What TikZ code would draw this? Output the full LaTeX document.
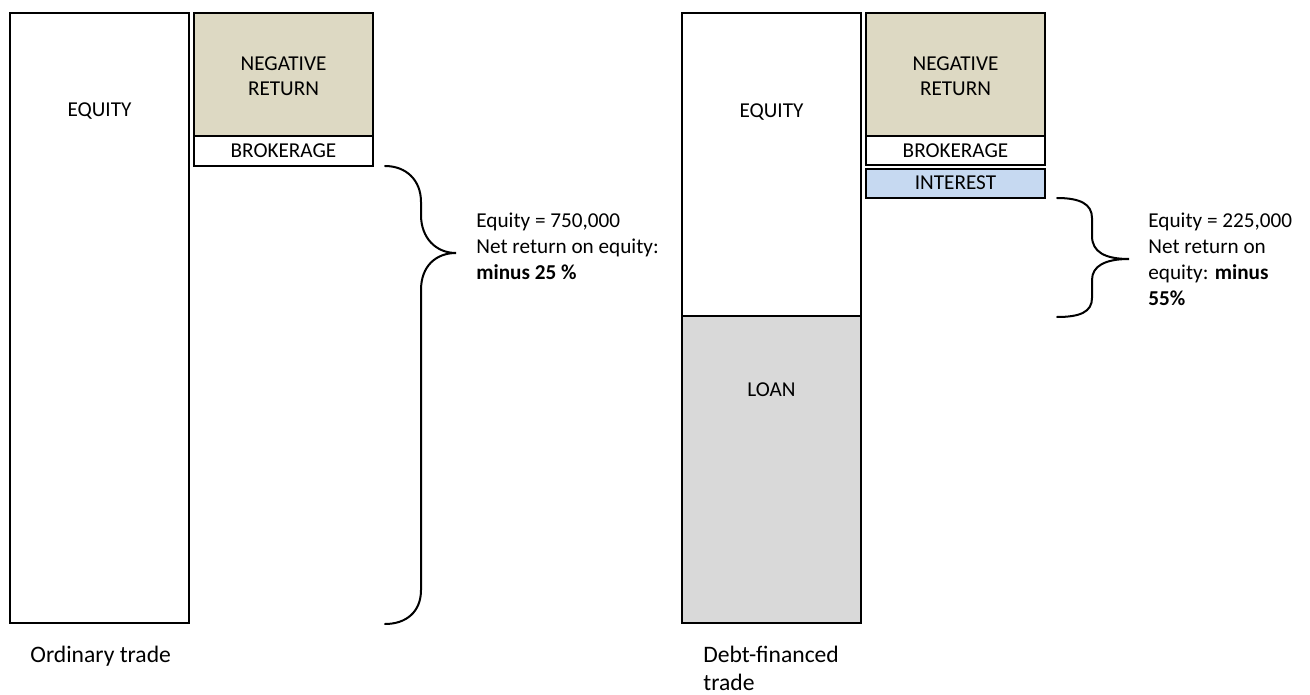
\documentclass[tikz,border=0pt]{standalone}
\usepackage{fontspec}
\setmainfont{Carlito}
\usepackage{tikz}
\usetikzlibrary{positioning}
\definecolor{tanfill}{HTML}{DDD9C3}
\definecolor{loanfill}{HTML}{D9D9D9}
\definecolor{interestfill}{HTML}{C6D9F1}

\begin{document}
\begin{tikzpicture}[x=0.5pt,y=-0.5pt,
  box/.style={rectangle,draw=black,line width=1pt,inner sep=0pt,outer sep=0pt,minimum width=89.5pt},
  lbl/.style={inner sep=0pt,font=\fontsize{10.6}{12.5}\selectfont,align=center},
  note/.style={inner sep=0pt,anchor=north west,font=\fontsize{10.6}{13}\selectfont,align=left},
  caption/.style={note,font=\fontsize{11.8}{14}\selectfont},
  brace/.style={line width=1pt,line cap=round}]
\useasboundingbox (0,0) rectangle (1310,695);
% \draw[help lines] (0,0) grid (1310,695);
% ordinary trade
\node (eq1) [box,minimum height=305pt] at (99.5,318) {};
\node (neg1) [box,fill=tanfill,minimum height=61.5pt] at (283.5,74.5) {};
\node (brk1) [box,minimum height=15pt] at (283.5,151) {};
\node (eq1t) [lbl] at (99.5,111) {EQUITY};
\node (neg1t) [lbl] at (283.5,76.5) {NEGATIVE\\RETURN};
\node (brk1t) [lbl] at (283.5,150.5) {BROKERAGE};
%
\coordinate (b1top) at (385,166);
\coordinate (b1tip) at (456,253);
\coordinate (b1bot) at (385,624);
\draw[brace] (b1top) .. controls (406,166) and (421,180) .. (421,202)
  -- (421,215) .. controls (421,238) and (436,253) .. (b1tip)
  .. controls (436,253) and (421,266) .. (421,290)
  -- (421,590) .. controls (421,612) and (406,624) .. (b1bot);
\node (n1) [note] at (476,213) {Equity = 750,000\\Net return on equity:\\\textbf{minus 25 \%}};
\node (cap1) [caption] at (30,646) {Ordinary trade};
% debt-financed trade
\node (eq2) [box,minimum height=151.5pt] at (771.5,164.5) {};
\node (loan2) [box,fill=loanfill,minimum height=153.5pt] at (771.5,469.5) {};
\node (neg2) [box,fill=tanfill,minimum height=61.5pt] at (955.5,74.5) {};
\node (brk2) [box,minimum height=14.5pt] at (955.5,150.5) {};
\node (int2) [box,fill=interestfill,minimum height=14.5pt] at (955.5,183.5) {};
\node (eq2t) [lbl] at (771.5,112) {EQUITY};
\node (loan2t) [lbl] at (771.5,390) {LOAN};
\node (neg2t) [lbl] at (955.5,76.5) {NEGATIVE\\RETURN};
\node (brk2t) [lbl] at (955.5,150.5) {BROKERAGE};
\node (int2t) [lbl] at (955.5,182.5) {INTEREST};
%
\coordinate (b2top) at (1057,198);
\coordinate (b2tip) at (1129,259);
\coordinate (b2bot) at (1057,317);
\draw[brace] (b2top) .. controls (1080,198) and (1092,204) .. (1092,218)
  -- (1092,236) .. controls (1092,252) and (1105,259) .. (b2tip)
  .. controls (1105,259) and (1092,266) .. (1092,280)
  -- (1092,298) .. controls (1092,312) and (1080,317) .. (b2bot);
\node (n2) [note] at (1148,213) {Equity = 225,000\\Net return on\\equity: \textbf{minus}\\\textbf{55\%}};
\node (cap2) [caption] at (703,646) {Debt-financed\\trade};
\end{tikzpicture}
\end{document}
